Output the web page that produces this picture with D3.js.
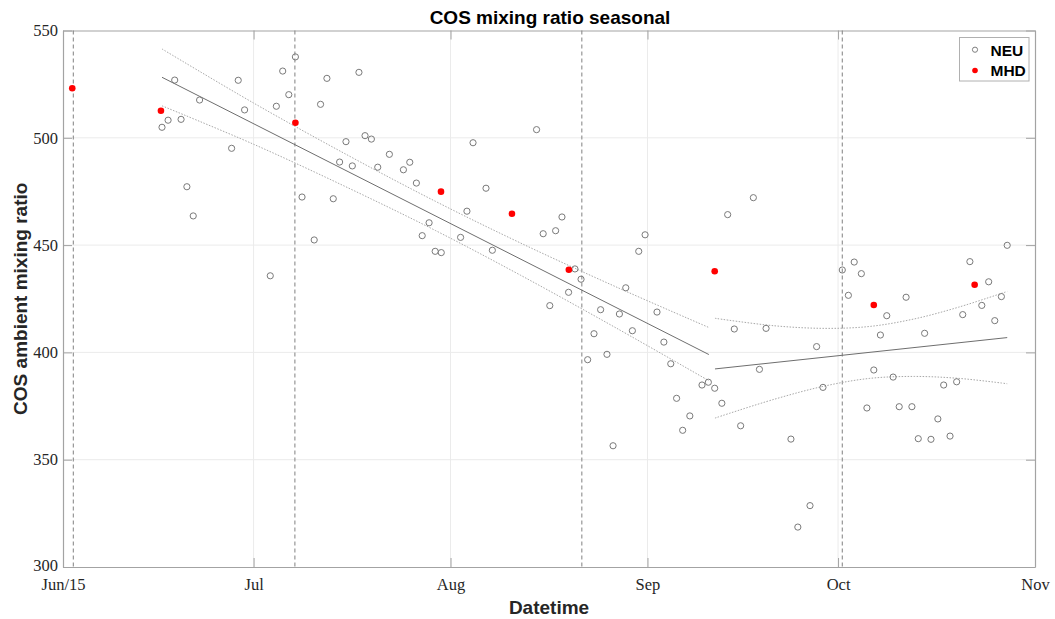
<!DOCTYPE html>
<html>
<head>
<meta charset="utf-8">
<script src="https://cdn.jsdelivr.net/npm/d3@7"></script>
<style>
  html, body { margin: 0; padding: 0; background: #fff; }
  svg { display: block; }
</style>
</head>
<body>
<svg id="chart" width="1055" height="619"></svg>
<script>
// ---------------- DATA ----------------
const titleText = "COS mixing ratio seasonal";
const xLabelText = "Datetime";
const yLabelText = "COS ambient mixing ratio";

const xTickDates = ["2015-06-01 00:00", "2015-07-01 00:00", "2015-08-01 00:00", "2015-09-01 00:00", "2015-10-01 00:00", "2015-11-01 00:00"];
const xTickLabels = ["Jun/15", "Jul", "Aug", "Sep", "Oct", "Nov"];
const yTicks = [300, 350, 400, 450, 500, 550];

const neuDates = [
  "2015-06-18 14:00", "2015-06-22 12:00", "2015-06-17 13:00", "2015-06-19 14:00", "2015-06-16 14:00",
  "2015-06-27 13:00", "2015-06-28 14:00", "2015-06-29 14:00", "2015-06-20 12:00", "2015-06-21 12:00",
  "2015-07-05 14:00", "2015-07-07 14:00", "2015-07-06 13:00", "2015-07-04 14:00", "2015-07-12 13:00",
  "2015-07-17 14:00", "2015-07-11 13:00", "2015-07-18 13:00", "2015-07-19 13:00", "2015-07-15 13:00",
  "2015-07-22 09:00", "2015-07-14 13:00", "2015-07-16 13:00", "2015-07-20 13:00", "2015-07-08 15:00",
  "2015-07-13 13:00", "2015-07-10 13:00", "2015-07-03 15:00", "2015-08-14 13:00", "2015-08-04 13:00",
  "2015-07-25 14:00", "2015-07-24 14:00", "2015-07-26 15:00", "2015-08-06 14:00", "2015-08-03 14:00",
  "2015-08-18 13:00", "2015-07-28 15:00", "2015-07-27 13:00", "2015-08-02 14:00", "2015-07-29 14:00",
  "2015-07-30 13:00", "2015-08-07 14:00", "2015-08-15 14:00", "2015-08-17 13:00", "2015-08-31 15:00",
  "2015-08-30 15:00", "2015-08-20 14:00", "2015-08-21 13:00", "2015-08-19 14:00", "2015-08-16 15:00",
  "2015-08-28 14:00", "2015-08-24 15:00", "2015-08-27 14:00", "2015-09-02 12:00", "2015-08-29 15:00",
  "2015-08-23 14:00", "2015-09-03 14:00", "2015-08-25 15:00", "2015-08-22 14:00", "2015-09-04 16:00",
  "2015-09-09 14:00", "2015-09-10 14:00", "2015-09-05 14:00", "2015-09-07 16:00", "2015-09-06 13:00",
  "2015-08-26 14:00", "2015-09-13 15:00", "2015-09-17 16:00", "2015-09-14 16:00", "2015-09-19 16:00",
  "2015-09-27 15:00", "2015-09-18 15:00", "2015-09-11 14:00", "2015-09-12 17:00", "2015-09-28 15:00",
  "2015-10-01 16:00", "2015-10-03 13:00", "2015-10-04 16:00", "2015-10-02 15:00", "2015-10-08 16:00",
  "2015-10-11 17:00", "2015-10-07 16:00", "2015-10-14 15:00", "2015-10-06 15:00", "2015-10-09 16:00",
  "2015-10-17 15:00", "2015-10-19 16:00", "2015-10-21 18:00", "2015-10-24 17:00", "2015-10-27 15:00",
  "2015-10-23 15:00", "2015-10-26 17:00", "2015-10-25 16:00", "2015-10-20 15:00", "2015-10-05 13:00",
  "2015-10-10 15:00", "2015-10-12 15:00", "2015-09-15 16:00", "2015-09-23 14:00", "2015-09-26 14:00",
  "2015-09-24 16:00", "2015-10-16 17:00", "2015-10-13 15:00", "2015-10-15 15:00", "2015-10-18 15:00"
];
const neuValues = [
  526.9, 517.6, 508.2, 508.6, 504.9,
  495.1, 526.8, 513.0, 477.2, 463.6,
  531.1, 537.7, 520.1, 514.7, 527.7,
  530.5, 515.6, 501.0, 499.4, 498.2,
  492.3, 488.7, 486.9, 486.3, 472.4,
  471.6, 452.4, 435.7, 503.8, 497.7,
  488.6, 485.1, 478.9, 476.5, 465.8,
  463.1, 460.4, 454.4, 453.6, 447.1,
  446.5, 447.6, 455.3, 456.7, 454.8,
  447.1, 438.9, 434.1, 428.0, 421.8,
  430.1, 419.9, 417.9, 418.8, 410.1,
  408.7, 404.8, 399.1, 396.6, 394.7,
  384.8, 386.1, 378.6, 370.4, 363.7,
  356.5, 464.2, 472.1, 410.9, 411.2,
  402.7, 392.1, 383.3, 376.3, 383.7,
  438.4, 442.1, 436.7, 426.6, 417.1,
  425.7, 408.1, 408.9, 391.8, 388.5,
  384.8, 386.3, 442.3, 432.9, 449.9,
  421.9, 426.0, 414.8, 417.6, 374.1,
  374.7, 374.7, 365.8, 359.6, 328.6,
  318.6, 369.0, 359.8, 359.5, 361.0
];

const mhdDates = ["2015-06-02 11:00", "2015-06-16 10:00", "2015-07-07 14:00", "2015-07-30 12:00", "2015-08-10 16:00",
                  "2015-08-19 15:00", "2015-09-11 14:00", "2015-10-06 15:00", "2015-10-22 12:00"];
const mhdValues = [523.1, 512.6, 507.0, 474.9, 464.6, 438.5, 437.8, 422.1, 431.5];

// regression segment 1 (Jun - Sep) and its confidence bounds
const fit1Dates = ["2015-06-16 14:00", "2015-09-10 16:00"];
const fit1Values = [528.2, 399.0];
const ci1Dates = ["2015-06-16 14:00", "2015-07-01 00:00", "2015-07-16 00:00", "2015-07-29 15:00", "2015-08-12 00:00", "2015-08-27 00:00", "2015-09-10 16:00"];
const ci1Upper = [541.4, 516.2, 491.6, 470.4, 451.0, 430.6, 411.6];
const ci1Lower = [514.9, 497.0, 476.5, 456.8, 436.0, 411.5, 386.8];

// regression segment 2 (Sep - Oct) and its confidence bounds
const fit2Dates = ["2015-09-11 15:00", "2015-10-27 15:00"];
const fit2Values = [392.3, 406.9];
const ci2Dates = ["2015-09-11 15:00", "2015-09-21 00:00", "2015-09-29 00:00", "2015-10-06 00:00", "2015-10-13 00:00", "2015-10-20 00:00", "2015-10-27 15:00"];
const ci2Upper = [415.9, 412.4, 411.2, 412.1, 415.6, 421.1, 428.4];
const ci2Lower = [369.4, 378.2, 384.4, 387.9, 388.8, 387.9, 385.4];

// vertical dashed marker lines
const markerDates = ["2015-06-02 15:00", "2015-07-07 12:00", "2015-08-21 16:00", "2015-10-01 16:00"];

const legendLabels = ["NEU", "MHD"];

// ---------------- CHART ----------------
const parse = d3.timeParse("%Y-%m-%d %H:%M");
const svg = d3.select("#chart");
const margin = {left: 63, right: 20, top: 30.5, bottom: 52};
const W = 1055, H = 619;
const x0 = margin.left, x1 = W - margin.right, y0 = margin.top, y1 = H - margin.bottom;

const x = d3.scaleTime().domain([parse(xTickDates[0]), parse(xTickDates[xTickDates.length - 1])]).range([x0, x1]);
const y = d3.scaleLinear().domain([300, 550]).range([y1, y0]);

const axisColor = "#a3a3a3";
const textColor = "#262626";
const serif = "'Liberation Serif', 'Times New Roman', serif";
const sans = "'Liberation Sans', Arial, Helvetica, sans-serif";

// grid
const xTickVals = xTickDates.map(parse);
const gGrid = svg.append("g");
gGrid.selectAll("line.vx").data(xTickVals.slice(1, -1)).join("line")
  .attr("x1", d => x(d)).attr("x2", d => x(d)).attr("y1", y0).attr("y2", y1)
  .attr("stroke", "#ebebeb").attr("stroke-width", 1);
gGrid.selectAll("line.hy").data(yTicks.slice(1, -1)).join("line")
  .attr("x1", x0).attr("x2", x1).attr("y1", d => y(d)).attr("y2", d => y(d))
  .attr("stroke", "#ebebeb").attr("stroke-width", 1);

// axes (box with inward ticks)
function styleAxis(g) {
  g.selectAll(".domain").attr("stroke", axisColor).attr("stroke-width", 1.2);
  g.selectAll(".tick line").attr("stroke", axisColor).attr("stroke-width", 1);
  g.selectAll(".tick text").attr("fill", textColor).attr("font-family", serif).attr("font-size", "16.5px");
}
const fmtX = d => xTickLabels[xTickVals.findIndex(t => +t === +d)];
svg.append("g").attr("transform", `translate(0,${y1})`)
  .call(d3.axisBottom(x).tickValues(xTickVals).tickFormat(fmtX).tickSizeInner(-9).tickSizeOuter(0).tickPadding(11.5))
  .call(styleAxis);
svg.append("g").attr("transform", `translate(0,${y0})`)
  .call(d3.axisTop(x).tickValues(xTickVals).tickFormat("").tickSizeInner(-9).tickSizeOuter(0))
  .call(styleAxis);
const gLeft = svg.append("g").attr("transform", `translate(${x0},0)`)
  .call(d3.axisLeft(y).tickValues(yTicks).tickFormat(d3.format("d")).tickSizeInner(-9).tickSizeOuter(0).tickPadding(5))
  .call(styleAxis);
// lift the bottom-most label slightly so it does not collide with the first date label
gLeft.selectAll(".tick text").filter(d => d === yTicks[0]).attr("y", -1.5);
svg.append("g").attr("transform", `translate(${x1},0)`)
  .call(d3.axisRight(y).tickValues(yTicks).tickFormat("").tickSizeInner(-9).tickSizeOuter(0))
  .call(styleAxis);

// vertical dashed marker lines
svg.append("g").selectAll("line").data(markerDates.map(parse)).join("line")
  .attr("x1", d => x(d)).attr("x2", d => x(d)).attr("y1", y0).attr("y2", y1)
  .attr("stroke", "#8c8c8c").attr("stroke-width", 1.1).attr("stroke-dasharray", "4,3");

// regression lines and confidence bands
const line = d3.line().x(d => x(d[0])).y(d => y(d[1]));
const curveLine = d3.line().x(d => x(d[0])).y(d => y(d[1])).curve(d3.curveCatmullRom);
function drawFit(dates, vals, ciDates, up, lo) {
  const fitPts = dates.map((d, i) => [parse(d), vals[i]]);
  svg.append("path").attr("d", line(fitPts)).attr("fill", "none").attr("stroke", "#6e6e6e").attr("stroke-width", 1);
  [up, lo].forEach(arr => {
    const pts = ciDates.map((d, i) => [parse(d), arr[i]]);
    svg.append("path").attr("d", curveLine(pts)).attr("fill", "none")
      .attr("stroke", "#a8a8a8").attr("stroke-width", 1).attr("stroke-dasharray", "1.5,1.5");
  });
}
drawFit(fit1Dates, fit1Values, ci1Dates, ci1Upper, ci1Lower);
drawFit(fit2Dates, fit2Values, ci2Dates, ci2Upper, ci2Lower);

// NEU points
svg.append("g").selectAll("circle").data(neuDates.map((d, i) => [parse(d), neuValues[i]])).join("circle")
  .attr("cx", d => x(d[0])).attr("cy", d => y(d[1])).attr("r", 3.1)
  .attr("fill", "none").attr("stroke", "#7a7a7a").attr("stroke-width", 1);

// MHD points
svg.append("g").selectAll("circle").data(mhdDates.map((d, i) => [parse(d), mhdValues[i]])).join("circle")
  .attr("cx", d => x(d[0])).attr("cy", d => y(d[1])).attr("r", 3.3)
  .attr("fill", "#ff0000").attr("stroke", "none");

// title and axis labels
svg.append("text").attr("x", (x0 + x1) / 2 + 1).attr("y", 24).attr("text-anchor", "middle")
  .attr("font-family", sans).attr("font-weight", "bold").attr("font-size", "19px").attr("fill", "#000")
  .text(titleText);
svg.append("text").attr("x", (x0 + x1) / 2).attr("y", 614).attr("text-anchor", "middle")
  .attr("font-family", sans).attr("font-weight", "bold").attr("font-size", "19px").attr("fill", textColor)
  .text(xLabelText);
svg.append("text").attr("transform", `translate(27,${(y0 + y1) / 2}) rotate(-90)`).attr("text-anchor", "middle")
  .attr("font-family", sans).attr("font-weight", "bold").attr("font-size", "19px").attr("fill", textColor)
  .text(yLabelText);

// legend
const lg = svg.append("g");
lg.append("rect").attr("x", 959.5).attr("y", 37.5).attr("width", 69.5).attr("height", 43.5)
  .attr("fill", "#fff").attr("stroke", "#b0b0b0").attr("stroke-width", 1);
lg.append("circle").attr("cx", 975).attr("cy", 49.7).attr("r", 2.6)
  .attr("fill", "none").attr("stroke", "#7f7f7f").attr("stroke-width", 1);
lg.append("circle").attr("cx", 975).attr("cy", 70.5).attr("r", 2.8).attr("fill", "#ff0000");
lg.selectAll("text").data(legendLabels).join("text")
  .attr("x", 990.5).attr("y", (d, i) => [55.6, 76.4][i])
  .attr("font-family", sans).attr("font-weight", "bold").attr("font-size", "15.5px").attr("fill", "#000")
  .text(d => d);
</script>
</body>
</html>
